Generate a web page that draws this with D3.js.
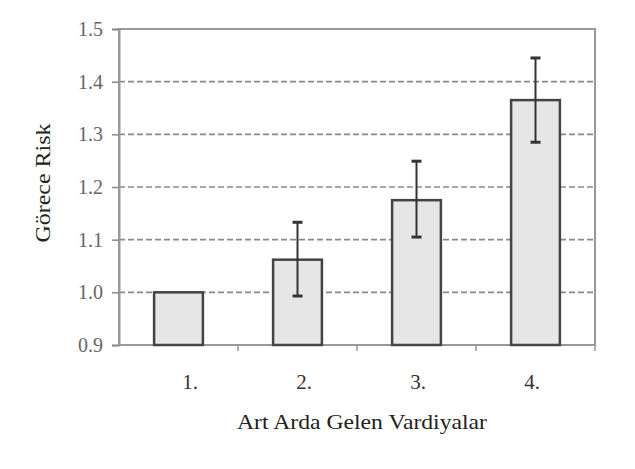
<!DOCTYPE html>
<html><head><meta charset="utf-8">
<script src="https://cdn.jsdelivr.net/npm/d3@7"></script>
<style>body{margin:0;background:#fff}</style>
</head><body>
<script>
const categories = ["1.", "2.", "3.", "4."];
const values = [1.0, 1.062, 1.175, 1.365];
const errLow = [null, 0.993, 1.105, 1.285];
const errHigh = [null, 1.133, 1.249, 1.445];
const yTicks = [0.9, 1.0, 1.1, 1.2, 1.3, 1.4, 1.5];

const W = 635, H = 469;
const m = {left: 119, right: 40, top: 29, bottom: 124};
const svg = d3.select("body").append("svg").attr("width", W).attr("height", H);

const x = d3.scaleBand().domain(categories).range([m.left, W - m.right]).paddingInner(0.59).paddingOuter(0.295);
const xLab = d3.scalePoint().domain(categories).range([190, 532]);
const y = d3.scaleLinear().domain([0.9, 1.5]).range([H - m.bottom, m.top]);

// gridlines
svg.append("g").selectAll("line").data(yTicks.filter(t => t > 0.95 && t < 1.45)).join("line")
  .attr("x1", m.left).attr("x2", W - m.right)
  .attr("y1", d => y(d)).attr("y2", d => y(d))
  .attr("stroke", "#8a8a8a").attr("stroke-width", 1.6).attr("stroke-dasharray", "6,3");

// frame
svg.append("rect").attr("x", m.left).attr("y", m.top)
  .attr("width", W - m.left - m.right).attr("height", H - m.top - m.bottom)
  .attr("fill", "none").attr("stroke", "#999").attr("stroke-width", 2);

// y axis
const yAxis = svg.append("g").attr("transform", `translate(${m.left},0)`)
  .call(d3.axisLeft(y).tickValues(yTicks).tickFormat(d3.format(".1f")).tickSize(7).tickPadding(9));
yAxis.select(".domain").attr("stroke", "#999").attr("stroke-width", 2);
yAxis.selectAll(".tick line").attr("stroke", "#888").attr("stroke-width", 1.5);
yAxis.selectAll("text").attr("font-family", "Liberation Serif").attr("font-size", 20).attr("fill", "#666");

// x ticks at category boundaries
const bounds = categories.map((c, i) => m.left + (i + 1) * ((W - m.left - m.right) / categories.length));
svg.append("g").selectAll("line").data(bounds).join("line")
  .attr("x1", d => d).attr("x2", d => d)
  .attr("y1", y(0.9)).attr("y2", y(0.9) + 6)
  .attr("stroke", "#999").attr("stroke-width", 1.5);

// bars
svg.append("g").selectAll("rect").data(categories).join("rect")
  .attr("x", d => x(d)).attr("width", x.bandwidth())
  .attr("y", (d, i) => y(values[i])).attr("height", (d, i) => y(0.9) - y(values[i]))
  .attr("fill", "#e6e6e6").attr("stroke", "#444").attr("stroke-width", 2.5);

// error bars
const eg = svg.append("g").attr("stroke", "#333");
categories.forEach((c, i) => {
  if (errLow[i] == null) return;
  const cx = x(c) + x.bandwidth() / 2;
  eg.append("line").attr("x1", cx).attr("x2", cx).attr("y1", y(errLow[i])).attr("y2", y(errHigh[i])).attr("stroke-width", 2);
  [errLow[i], errHigh[i]].forEach(v => {
    eg.append("line").attr("x1", cx - 5).attr("x2", cx + 5).attr("y1", y(v)).attr("y2", y(v)).attr("stroke-width", 3);
  });
});

// x labels
svg.append("g").selectAll("text").data(categories).join("text")
  .attr("x", d => xLab(d)).attr("y", 389)
  .attr("text-anchor", "middle").attr("font-family", "Liberation Serif").attr("font-size", 21).attr("fill", "#333")
  .text(d => d);

svg.append("text").attr("x", 362).attr("y", 429).attr("text-anchor", "middle")
  .attr("font-family", "Liberation Serif").attr("font-size", 22).attr("fill", "#222")
  .attr("textLength", 250).attr("lengthAdjust", "spacingAndGlyphs")
  .text("Art Arda Gelen Vardiyalar");

svg.append("text").attr("transform", "translate(50,183) rotate(-90)").attr("text-anchor", "middle")
  .attr("font-family", "Liberation Serif").attr("font-size", 22).attr("fill", "#222")
  .attr("textLength", 119).attr("lengthAdjust", "spacingAndGlyphs")
  .text("Görece Risk");
</script>
</body></html>
